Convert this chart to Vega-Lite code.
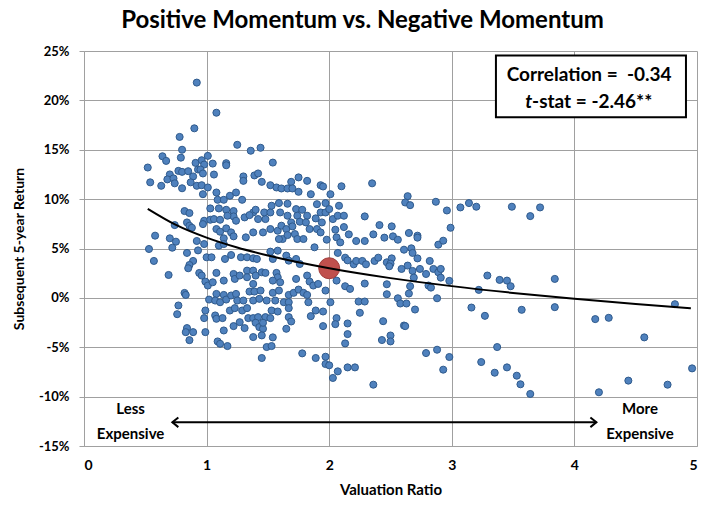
{
"$schema": "https://vega.github.io/schema/vega-lite/v6.json",
"width": 613, "height": 395, "autosize": "none",
"padding": {"left": 84, "top": 51, "right": 25, "bottom": 60},
"background": "white",
"config": {"view": {"stroke": null}, "font": "Lato"},
"title": {"text": "Positive Momentum vs. Negative Momentum", "font": "Lato", "fontSize": 24, "fontWeight": "bold", "color": "black", "anchor": "middle", "frame": "group", "offset": 12, "dx": -28},
"datasets": {
"pts": [
{"x":0.92,"y":21.8},{"x":1.08,"y":18.75},{"x":0.90,"y":17.17},{"x":0.78,"y":16.3},{"x":1.25,"y":15.5},{"x":0.80,"y":15.0},{"x":0.64,"y":14.34},{"x":0.67,"y":13.87},{"x":0.79,"y":14.2},{"x":1.01,"y":14.38},{"x":0.52,"y":13.2},{"x":0.91,"y":13.67},{"x":0.96,"y":13.94},{"x":0.98,"y":13.5},{"x":1.05,"y":13.6},{"x":1.16,"y":13.64},{"x":1.16,"y":13.43},{"x":0.93,"y":13.0},{"x":0.95,"y":13.0},{"x":0.97,"y":12.6},{"x":1.06,"y":12.49},{"x":0.70,"y":12.5},{"x":0.77,"y":12.86},{"x":0.80,"y":12.76},{"x":0.85,"y":12.83},{"x":0.68,"y":12.0},{"x":0.73,"y":12.1},{"x":0.74,"y":11.6},{"x":0.89,"y":12.3},{"x":0.54,"y":11.7},{"x":0.63,"y":11.35},{"x":0.80,"y":11.1},{"x":0.87,"y":11.7},{"x":0.92,"y":11.35},
{"x":0.82,"y":8.79},{"x":0.86,"y":8.59},{"x":0.74,"y":7.37},{"x":0.84,"y":7.64},{"x":0.86,"y":7.3},{"x":0.88,"y":7.1},{"x":0.58,"y":6.3},{"x":0.70,"y":6.03},{"x":0.75,"y":5.69},{"x":0.72,"y":5.08},{"x":0.53,"y":4.95},{"x":0.57,"y":3.74},{"x":0.84,"y":4.55},{"x":0.93,"y":4.81},{"x":0.89,"y":3.74},{"x":0.86,"y":3.33},{"x":0.85,"y":3.0},{"x":0.92,"y":5.76},{"x":0.69,"y":2.32},{"x":0.94,"y":2.52},{"x":0.82,"y":0.5},{"x":0.83,"y":0.30},
{"x":0.77,"y":-0.77},{"x":0.76,"y":-1.65},{"x":0.84,"y":-3.06},{"x":0.83,"y":-3.47},{"x":0.89,"y":-3.47},{"x":0.86,"y":-4.28},{"x":1.17,"y":-4.88},
{"x":1.36,"y":14.9},{"x":1.44,"y":15.2},{"x":1.54,"y":13.7},{"x":1.30,"y":12.3},{"x":1.39,"y":12.4},{"x":1.42,"y":12.6},{"x":1.75,"y":12.2},{"x":2.10,"y":11.3},{"x":2.35,"y":11.6},
{"x":0.96,"y":11.41},{"x":1.01,"y":11.18},{"x":1.08,"y":10.67},{"x":1.30,"y":11.85},{"x":1.45,"y":11.75},{"x":1.52,"y":11.41},{"x":1.57,"y":11.18},{"x":1.61,"y":11.08},{"x":1.66,"y":11.08},{"x":1.69,"y":11.75},{"x":1.70,"y":11.08},{"x":1.75,"y":10.74},{"x":1.82,"y":11.85},{"x":1.85,"y":10.5},{"x":1.93,"y":11.41},{"x":1.95,"y":11.28},{"x":2.01,"y":10.5},{"x":0.97,"y":10.5},{"x":1.09,"y":9.93},{"x":1.14,"y":9.93},{"x":1.19,"y":10.34},{"x":1.24,"y":10.67},{"x":1.29,"y":9.93},{"x":1.03,"y":9.06},{"x":1.10,"y":9.06},{"x":1.16,"y":8.92},{"x":1.22,"y":8.79},{"x":1.22,"y":8.25},{"x":0.98,"y":7.81},{"x":1.03,"y":7.91},{"x":1.06,"y":7.98},{"x":1.11,"y":7.91},{"x":1.17,"y":8.32},{"x":1.24,"y":7.81},{"x":1.31,"y":8.15},{"x":1.38,"y":8.65},{"x":1.40,"y":8.92},{"x":1.35,"y":8.38},{"x":1.42,"y":7.98},{"x":1.48,"y":7.98},{"x":1.47,"y":8.65},{"x":1.52,"y":8.65},{"x":1.53,"y":9.33},{"x":1.59,"y":9.6},{"x":1.60,"y":8.65},{"x":1.66,"y":9.53},{"x":1.66,"y":8.32},{"x":1.69,"y":7.64},{"x":1.73,"y":8.99},{"x":1.74,"y":8.32},{"x":1.78,"y":8.92},{"x":1.82,"y":8.32},{"x":1.76,"y":7.71},{"x":1.81,"y":7.64},{"x":1.90,"y":9.49},{"x":1.93,"y":8.65},{"x":1.97,"y":9.6},{"x":1.97,"y":8.65},{"x":2.00,"y":8.99},{"x":2.03,"y":7.98},{"x":2.07,"y":8.32},{"x":1.89,"y":8.05},{"x":1.94,"y":7.64},{"x":0.97,"y":7.47},{"x":1.08,"y":6.97},{"x":1.11,"y":6.7},{"x":1.16,"y":7.04},{"x":1.14,"y":6.03},{"x":1.20,"y":6.63},{"x":1.22,"y":6.23},{"x":1.32,"y":6.13},{"x":1.38,"y":6.63},{"x":1.46,"y":6.63},{"x":1.52,"y":6.97},{"x":1.58,"y":6.8},{"x":1.61,"y":7.31},{"x":1.62,"y":5.96},{"x":1.65,"y":6.97},{"x":1.66,"y":6.36},{"x":1.70,"y":7.24},{"x":1.72,"y":6.46},{"x":1.74,"y":5.96},{"x":1.79,"y":5.96},{"x":1.84,"y":6.97},{"x":1.90,"y":6.97},{"x":1.93,"y":6.63},{"x":1.98,"y":5.89},{"x":2.05,"y":6.9},{"x":2.06,"y":6.13},{"x":1.88,"y":5.12},{"x":1.59,"y":5.96},{"x":0.98,"y":5.45},{"x":1.10,"y":5.29},{"x":1.14,"y":5.45},{"x":1.00,"y":4.11},{"x":1.04,"y":4.11},{"x":1.15,"y":3.94},{"x":1.20,"y":4.34},{"x":1.28,"y":4.11},{"x":1.33,"y":4.11},{"x":1.38,"y":4.01},{"x":1.41,"y":3.94},{"x":1.52,"y":4.68},{"x":1.58,"y":4.78},{"x":1.54,"y":3.94},{"x":1.65,"y":4.28},{"x":1.67,"y":3.77},{"x":1.73,"y":3.94},{"x":1.76,"y":3.43},
{"x":0.96,"y":2.26},{"x":0.99,"y":1.65},{"x":1.01,"y":1.25},{"x":1.05,"y":1.58},{"x":1.08,"y":2.53},{"x":1.14,"y":1.75},{"x":1.22,"y":2.42},{"x":1.23,"y":1.92},{"x":1.27,"y":2.26},{"x":1.33,"y":2.76},{"x":1.33,"y":2.09},{"x":1.38,"y":2.76},{"x":1.40,"y":2.26},{"x":1.45,"y":2.59},{"x":1.48,"y":2.53},{"x":1.57,"y":2.53},{"x":1.58,"y":2.09},{"x":1.60,"y":1.58},{"x":1.54,"y":1.75},{"x":1.38,"y":1.41},{"x":1.73,"y":1.92},{"x":1.82,"y":2.26},{"x":1.84,"y":1.65},{"x":1.87,"y":1.25},{"x":1.91,"y":1.41},{"x":1.97,"y":0.74},{"x":2.06,"y":1.75},{"x":1.08,"y":0.40},{"x":1.14,"y":0.30},{"x":1.02,"y":-0.17},{"x":1.07,"y":-0.27},{"x":1.11,"y":-0.44},{"x":1.16,"y":-0.17},{"x":1.20,"y":0.24},{"x":1.24,"y":0.40},{"x":1.25,"y":-0.27},{"x":1.30,"y":-0.27},{"x":1.35,"y":0.64},{"x":1.39,"y":0.64},{"x":1.44,"y":0.74},{"x":1.38,"y":-0.27},{"x":1.43,"y":-0.10},{"x":1.49,"y":-0.27},{"x":1.54,"y":0.51},{"x":1.59,"y":0.74},{"x":1.56,"y":-0.27},{"x":1.63,"y":-0.44},{"x":1.67,"y":0.30},{"x":1.67,"y":-0.44},{"x":1.71,"y":0.51},{"x":1.75,"y":0.84},{"x":1.79,"y":0.51},{"x":1.82,"y":0.30},{"x":1.83,"y":-0.44},{"x":2.01,"y":-0.44},{"x":0.99,"y":-1.28},{"x":0.98,"y":-2.05},{"x":1.07,"y":-1.78},{"x":1.08,"y":-2.12},{"x":1.13,"y":-2.05},{"x":1.19,"y":-1.28},{"x":1.23,"y":-1.04},{"x":1.29,"y":-1.28},{"x":1.33,"y":-1.04},{"x":1.34,"y":-2.05},{"x":1.38,"y":-2.05},{"x":1.42,"y":-1.95},{"x":1.48,"y":-1.95},{"x":1.53,"y":-1.28},{"x":1.58,"y":-1.38},{"x":1.52,"y":-2.05},{"x":1.67,"y":-1.04},{"x":1.67,"y":-1.95},{"x":1.69,"y":-2.39},{"x":1.65,"y":-3.13},{"x":1.89,"y":-1.28},{"x":1.95,"y":-1.38},{"x":1.95,"y":-2.86},{"x":2.06,"y":-2.05},{"x":0.99,"y":-3.47},{"x":1.14,"y":-3.30},{"x":1.22,"y":-2.86},{"x":1.27,"y":-2.46},{"x":1.31,"y":-3.06},{"x":1.40,"y":-2.52},{"x":1.43,"y":-2.96},{"x":1.46,"y":-3.13},{"x":1.46,"y":-2.52},{"x":1.38,"y":-3.97},{"x":1.45,"y":-3.80},{"x":1.09,"y":-4.41},{"x":1.11,"y":-4.65},{"x":1.49,"y":-4.98},{"x":1.53,"y":-4.88},{"x":1.54,"y":-4.0},{"x":1.85,"y":-1.85},{"x":2.05,"y":-2.66},
{"x":2.29,"y":8.25},{"x":2.12,"y":8.32},{"x":2.08,"y":9.33},{"x":2.12,"y":7.17},{"x":2.16,"y":6.43},{"x":2.22,"y":5.76},{"x":2.29,"y":5.76},{"x":2.36,"y":6.43},{"x":2.09,"y":5.62},{"x":2.13,"y":4.07},{"x":2.15,"y":3.8},{"x":2.20,"y":3.4},{"x":2.22,"y":3.74},{"x":2.27,"y":3.74},{"x":2.30,"y":3.4},{"x":2.37,"y":3.74},{"x":2.40,"y":4.07},{"x":2.47,"y":3.6},{"x":2.07,"y":4.55},{"x":2.13,"y":1.18},{"x":2.17,"y":0.91},{"x":2.29,"y":1.45},
{"x":2.24,"y":-0.37},{"x":2.29,"y":-0.37},{"x":2.15,"y":-2.59},{"x":2.15,"y":-3.67},{"x":2.13,"y":-4.61},{"x":2.25,"y":-1.51},{"x":1.45,"y":-6.09},{"x":1.78,"y":-5.62},{"x":1.89,"y":-6.09},{"x":1.97,"y":-5.96},{"x":1.97,"y":-6.7},{"x":2.00,"y":-6.83},{"x":2.07,"y":-7.44},{"x":2.03,"y":-8.11},{"x":2.15,"y":-7.04},{"x":2.21,"y":-7.04},{"x":2.36,"y":-8.79},
{"x":2.64,"y":10.3},{"x":2.62,"y":9.66},{"x":2.66,"y":9.39},{"x":2.87,"y":9.73},{"x":2.96,"y":8.85},{"x":3.07,"y":9.16},{"x":3.14,"y":9.6},{"x":3.20,"y":9.23},{"x":3.49,"y":9.23},{"x":3.64,"y":8.28},{"x":3.72,"y":9.16},{"x":2.99,"y":7.1},{"x":2.41,"y":7.37},{"x":2.51,"y":7.24},{"x":2.45,"y":6.1},{"x":2.52,"y":6.23},{"x":2.56,"y":5.89},{"x":2.65,"y":6.57},{"x":2.72,"y":6.3},{"x":2.72,"y":6.1},{"x":2.89,"y":5.39},{"x":2.93,"y":5.79},{"x":2.61,"y":4.88},{"x":2.67,"y":5.02},{"x":2.68,"y":4.55},{"x":2.72,"y":4.0},{"x":2.51,"y":4.0},{"x":2.50,"y":3.47},{"x":2.49,"y":3.2},{"x":2.59,"y":2.93},{"x":2.64,"y":3.27},{"x":2.68,"y":2.73},{"x":2.69,"y":2.05},{"x":2.74,"y":2.93},{"x":2.79,"y":2.42},{"x":2.82,"y":3.74},{"x":2.85,"y":2.93},{"x":2.89,"y":2.59},{"x":2.91,"y":2.93},{"x":2.91,"y":2.05},{"x":2.98,"y":1.72},{"x":2.47,"y":1.38},{"x":2.66,"y":1.18},{"x":2.81,"y":1.25},{"x":2.83,"y":1.04},{"x":2.47,"y":0.37},{"x":2.65,"y":0.44},{"x":2.56,"y":-0.04},{"x":2.58,"y":-0.57},{"x":2.63,"y":-0.57},{"x":2.70,"y":-1.18},{"x":2.88,"y":-0.04},{"x":3.22,"y":0.81},{"x":3.29,"y":2.26},{"x":3.39,"y":1.82},{"x":3.45,"y":1.75},{"x":3.48,"y":1.18},{"x":3.84,"y":1.92},{"x":3.16,"y":-0.98},{"x":3.27,"y":-1.82},{"x":3.57,"y":-1.21},{"x":3.84,"y":-0.94},{"x":4.17,"y":-2.15},{"x":4.28,"y":-2.02},{"x":4.82,"y":-0.64},{"x":4.57,"y":-4.0},{"x":2.44,"y":-2.36},{"x":2.61,"y":-2.8},{"x":2.62,"y":-2.86},{"x":2.43,"y":-4.27},{"x":2.50,"y":-3.81},{"x":2.50,"y":-4.41},{"x":2.79,"y":-5.59},{"x":2.88,"y":-5.25},{"x":2.98,"y":-5.99},{"x":2.93,"y":-7.27},{"x":3.24,"y":-6.5},{"x":3.37,"y":-4.98},{"x":3.35,"y":-7.58},{"x":3.45,"y":-7.04},{"x":3.53,"y":-7.88},{"x":3.56,"y":-8.75},{"x":3.64,"y":-9.73},{"x":4.20,"y":-9.56},{"x":4.44,"y":-8.38},{"x":4.76,"y":-8.79},{"x":4.96,"y":-7.14}
],
"curve": [{"x":0.52,"y":9.02},{"x":0.75,"y":7.39},{"x":1.0,"y":6.1},{"x":1.25,"y":5.1},{"x":1.5,"y":4.29},{"x":2.0,"y":3.0},{"x":2.5,"y":2.0},{"x":3.0,"y":1.19},{"x":3.5,"y":0.5},{"x":4.0,"y":-0.1},{"x":4.5,"y":-0.62},{"x":4.95,"y":-1.05}],
"big": [{"x":2.0,"y":3.0}],
"box": [{"x":3.36,"x2":4.91,"y":24.55,"y2":18.28}],
"arrow": [{"x":0.72,"x2":4.18,"y":-12.6}],
"heads": [{"x":0.75,"y":-12.6,"d":"L"},{"x":4.15,"y":-12.6,"d":"R"}],
"labels": [{"x":0.38,"y":-11.3,"t":"Less\nExpensive"},{"x":4.535,"y":-11.3,"t":"More\nExpensive"}],
"stats": [{"x":4.12,"y":22.6,"t":"Correlation = \u00a0-0.34"}],
"tpart": [{"x":3.655,"y":19.8}]
},
"layer": [
{"data": {"name": "pts"}, "mark": {"type": "point", "filled": true, "size": 50, "fill": "#4f81bd", "stroke": "#2f5a8c", "strokeWidth": 1, "opacity": 1},
 "encoding": {
  "x": {"field": "x", "type": "quantitative", "scale": {"domain": [0, 5], "nice": false, "zero": false},
   "axis": {"values": [0,1,2,3,4,5], "format": "d", "title": "Valuation Ratio", "grid": true, "gridColor": "#a0a0a0", "domainColor": "#a0a0a0", "ticks": false, "labelPadding": 12, "labelFont": "Lato", "labelFontSize": 14, "labelFontWeight": "bold", "labelColor": "black", "titleFont": "Lato", "titleFontSize": 15, "titleFontWeight": "bold", "titleColor": "black", "titlePadding": 10}},
  "y": {"field": "y", "type": "quantitative", "scale": {"domain": [-15, 25], "nice": false, "zero": false},
   "axis": {"values": [-15,-10,-5,0,5,10,15,20,25], "labelExpr": "datum.value + '%'", "title": "Subsequent 5-year Return", "grid": true, "gridColor": "#a0a0a0", "domainColor": "#a0a0a0", "tickColor": "#a0a0a0", "tickSize": 5, "labelPadding": 10, "labelFont": "Lato", "labelFontSize": 13, "labelFontWeight": "bold", "labelColor": "black", "titleFont": "Lato", "titleFontSize": 14, "titleFontWeight": "bold", "titleColor": "black", "titlePadding": 12}}
 }},
{"data": {"name": "big"}, "mark": {"type": "point", "filled": true, "size": 440, "fill": "#c0504d", "stroke": "#a03c3a", "strokeWidth": 1, "opacity": 1},
 "encoding": {"x": {"field": "x", "type": "quantitative"}, "y": {"field": "y", "type": "quantitative"}}},
{"data": {"name": "curve"}, "mark": {"type": "line", "color": "black", "strokeWidth": 2, "interpolate": "monotone"},
 "encoding": {"x": {"field": "x", "type": "quantitative"}, "y": {"field": "y", "type": "quantitative"}}},
{"data": {"name": "box"}, "mark": {"type": "rect", "fill": "white", "stroke": "black", "strokeWidth": 2},
 "encoding": {"x": {"field": "x", "type": "quantitative"}, "x2": {"field": "x2"}, "y": {"field": "y", "type": "quantitative"}, "y2": {"field": "y2"}}},
{"data": {"name": "stats"}, "mark": {"type": "text", "font": "Lato", "fontSize": 19, "fontWeight": "bold", "color": "black", "align": "center", "baseline": "middle"},
 "encoding": {"x": {"field": "x", "type": "quantitative"}, "y": {"field": "y", "type": "quantitative"}, "text": {"field": "t"}}},
{"data": {"name": "tpart"}, "mark": {"type": "text", "font": "Lato", "fontSize": 19, "fontWeight": "bold", "fontStyle": "italic", "color": "black", "align": "right", "baseline": "middle", "text": "t"},
 "encoding": {"x": {"field": "x", "type": "quantitative"}, "y": {"field": "y", "type": "quantitative"}}},
{"data": {"name": "tpart"}, "mark": {"type": "text", "font": "Lato", "fontSize": 19, "fontWeight": "bold", "color": "black", "align": "left", "baseline": "middle", "text": "-stat = -2.46**"},
 "encoding": {"x": {"field": "x", "type": "quantitative"}, "y": {"field": "y", "type": "quantitative"}}},
{"data": {"name": "arrow"}, "mark": {"type": "rule", "color": "black", "strokeWidth": 2},
 "encoding": {"x": {"field": "x", "type": "quantitative"}, "x2": {"field": "x2"}, "y": {"field": "y", "type": "quantitative"}}},
{"data": {"name": "heads"}, "transform": [{"filter": "datum.d == 'L'"}], "mark": {"type": "point", "shape": "M 0.4 -0.8 L -0.6 0 L 0.4 0.8", "filled": false, "stroke": "black", "strokeWidth": 2, "size": 144, "opacity": 1},
 "encoding": {"x": {"field": "x", "type": "quantitative"}, "y": {"field": "y", "type": "quantitative"}}},
{"data": {"name": "heads"}, "transform": [{"filter": "datum.d == 'R'"}], "mark": {"type": "point", "shape": "M -0.4 -0.8 L 0.6 0 L -0.4 0.8", "filled": false, "stroke": "black", "strokeWidth": 2, "size": 144, "opacity": 1},
 "encoding": {"x": {"field": "x", "type": "quantitative"}, "y": {"field": "y", "type": "quantitative"}}},
{"data": {"name": "labels"}, "mark": {"type": "text", "font": "Lato", "fontSize": 15, "fontWeight": "bold", "color": "black", "align": "center", "baseline": "middle", "lineBreak": "\n", "lineHeight": 25},
 "encoding": {"x": {"field": "x", "type": "quantitative"}, "y": {"field": "y", "type": "quantitative"}, "text": {"field": "t"}}}
]
}
